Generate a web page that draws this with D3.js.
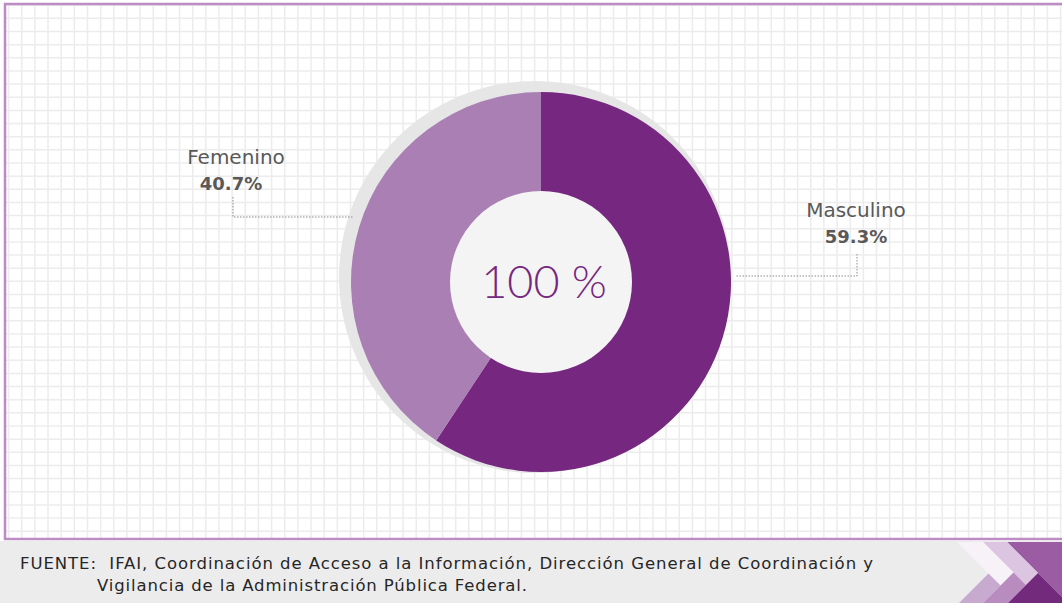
<!DOCTYPE html>
<html>
<head>
<meta charset="utf-8">
<script src="https://d3js.org/d3.v7.min.js"></script>
<style>
  body { margin: 0; background: #ffffff; }
  svg { display: block; }
</style>
</head>
<body>
<script>
// donut chart of requests by sex

// data
var categories = ["Masculino", "Femenino"];
var shares = [59.3, 40.7];
var shareLabels = ["59.3%", "40.7%"];
var centerLabel = "100 %";
var sourceLines = [
  "FUENTE:  IFAI, Coordinación de Acceso a la Información, Dirección General de Coordinación y",
  "Vigilancia de la Administración Pública Federal."
];

var width = 1062,
  height = 603;

var svg = d3.select("body").append("svg")
  .attr("width", width)
  .attr("height", height);

// colour scale
var color = d3.scaleOrdinal()
  .domain(categories)
  .range(["#76277f", "#a97fb4"]);

var labelFont = "'DejaVu Sans', Lato, sans-serif";

// frame and grid paper
var frame = { x: 5, y: 4, w: 1062, h: 535 };

svg.append("rect")
  .attr("x", 0).attr("y", 0)
  .attr("width", width).attr("height", height)
  .attr("fill", "#ffffff");

var grid = svg.append("g");
var step = 13.15;
d3.range(frame.x + 3.6, width, step).forEach(function (x) {
  grid.append("line")
    .attr("x1", x).attr("x2", x)
    .attr("y1", frame.y).attr("y2", frame.y + frame.h)
    .attr("stroke", "#ececec").attr("stroke-width", 1.5);
});
d3.range(frame.y + 1.2, frame.y + frame.h, step).forEach(function (y) {
  grid.append("line")
    .attr("x1", frame.x).attr("x2", width)
    .attr("y1", y).attr("y2", y)
    .attr("stroke", "#ececec").attr("stroke-width", 1.5);
});

svg.append("rect")
  .attr("x", frame.x).attr("y", frame.y)
  .attr("width", frame.w).attr("height", frame.h)
  .attr("fill", "none")
  .attr("stroke", "#bd8cc4")
  .attr("stroke-width", 2.5);

// footer band
svg.append("rect")
  .attr("x", 0).attr("y", 541)
  .attr("width", width).attr("height", height - 541)
  .attr("fill", "#ececec");

// decorative chevrons in the corner
var chevrons = [
  { fill: "#9b5ca3", pts: [[1007, 542], [1062, 542], [1062, 597], [1038, 573]] },
  { fill: "#dbc5e0", pts: [[983, 542], [1007, 542], [1038, 573], [1026, 585]] },
  { fill: "#f7f2f8", pts: [[957, 542], [983, 542], [1013.5, 572.5], [1000.5, 585.5]] },
  { fill: "#c8a9cf", pts: [[988.5, 573.5], [1000.5, 585.5], [983, 603], [959, 603]] },
  { fill: "#b98cc0", pts: [[1000.5, 585.5], [1013.5, 572.5], [1026, 585], [1008, 603], [983, 603]] },
  { fill: "#742a7c", pts: [[1038, 573], [1062, 597], [1062, 603], [1008, 603]] }
];
svg.append("g").selectAll("polygon")
  .data(chevrons)
  .enter().append("polygon")
  .attr("points", function (d) { return d.pts.join(" "); })
  .attr("fill", function (d) { return d.fill; });

// donut
var cx = 541, cy = 282, outerR = 190, innerR = 91;

// soft grey disc behind the donut
svg.append("circle")
  .attr("cx", cx - 6).attr("cy", cy - 5)
  .attr("r", 196)
  .attr("fill", "#e6e6e6");

var pie = d3.pie().sort(null).value(function (d) { return d; });
var arc = d3.arc().innerRadius(0).outerRadius(outerR);

var donut = svg.append("g")
  .attr("transform", "translate(" + cx + "," + cy + ")");

donut.selectAll("path")
  .data(pie(shares))
  .enter().append("path")
  .attr("d", arc)
  .attr("fill", function (d, i) { return color(categories[i]); });

donut.append("circle")
  .attr("r", innerR)
  .attr("fill", "#f4f4f4");

donut.append("text")
  .attr("x", 3)
  .attr("y", 16)
  .attr("text-anchor", "middle")
  .style("font-family", "Lato, 'Open Sans', sans-serif")
  .style("font-weight", 300)
  .style("font-size", "45px")
  .attr("fill", "#76277f")
  .text(centerLabel);

// labels with dotted leaders
var labels = [
  { name: 0, tx: 856, ty: 217, leader: [[857, 254], [857, 276], [735, 276]] },
  { name: 1, tx: 236, ty: 164, leader: [[233, 197], [233, 217], [354, 217]] }
];

var lab = svg.append("g").selectAll("g")
  .data(labels)
  .enter().append("g");

lab.append("path")
  .attr("d", function (d) { return d3.line()(d.leader); })
  .attr("fill", "none")
  .attr("stroke", "#8c8c8c")
  .attr("stroke-width", 1)
  .attr("stroke-dasharray", "1.5,1.5");

lab.append("text")
  .attr("x", function (d) { return d.tx; })
  .attr("y", function (d) { return d.ty; })
  .attr("text-anchor", "middle")
  .style("font-family", labelFont)
  .style("font-size", "20px")
  .attr("fill", "#595959")
  .text(function (d) { return categories[d.name]; });

lab.append("text")
  .attr("x", function (d) { return d.tx - (d.name ? 5 : 0); })
  .attr("y", function (d) { return d.ty + 26; })
  .attr("text-anchor", "middle")
  .style("font-family", labelFont)
  .style("font-weight", "bold")
  .style("font-size", "18px")
  .attr("fill", "#595959")
  .text(function (d) { return shareLabels[d.name]; });

// source note
svg.append("text")
  .attr("x", 20).attr("y", 569)
  .style("font-family", labelFont)
  .style("font-size", "16.5px")
  .attr("fill", "#262626")
  .style("white-space", "pre")
  .attr("textLength", 853)
  .attr("lengthAdjust", "spacing")
  .text(sourceLines[0]);

svg.append("text")
  .attr("x", 97).attr("y", 591)
  .style("font-family", labelFont)
  .style("font-size", "16.5px")
  .attr("fill", "#262626")
  .attr("textLength", 430)
  .attr("lengthAdjust", "spacing")
  .text(sourceLines[1]);
</script>
</body>
</html>
